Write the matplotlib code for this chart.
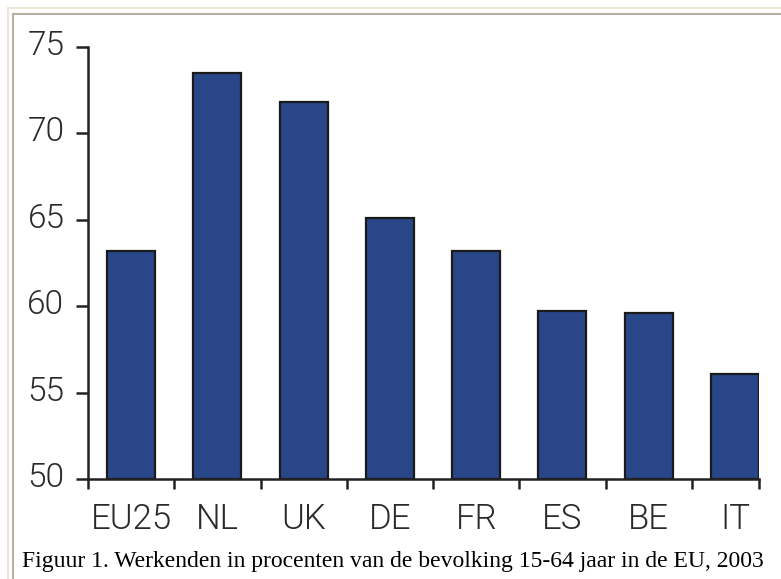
import matplotlib
matplotlib.use("Agg")
import matplotlib.pyplot as plt
from matplotlib.lines import Line2D
from matplotlib.transforms import ScaledTranslation

categories = ["EU25", "NL", "UK", "DE", "FR", "ES", "BE", "IT"]
values = [63.2, 73.5, 71.8, 65.1, 63.2, 59.7, 59.6, 56.1]
yticks = [50, 55, 60, 65, 70, 75]
caption = "Figuur 1. Werkenden in procenten van de bevolking 15-64 jaar in de EU, 2003"

W, H = 781, 579
fig = plt.figure(figsize=(W / 100, H / 100), dpi=100)
fig.patch.set_facecolor("white")

# frame lines (screenshot border)
fig.add_artist(Line2D([8 / W, 1], [1 - 8 / H, 1 - 8 / H], color="#ebe7d6", lw=1.5))
fig.add_artist(Line2D([8 / W, 8 / W], [0, 1 - 8 / H], color="#ebe7d6", lw=1.5))
fig.add_artist(Line2D([13 / W, 1], [1 - 14 / H, 1 - 14 / H], color="#b4b0a4", lw=1.5))
fig.add_artist(Line2D([13 / W, 13 / W], [0, 1 - 14 / H], color="#b4b0a4", lw=1.5))

left, right = 88 / W, 759 / W
bottom, top = 1 - 479 / H, 1 - 47 / H
ax = fig.add_axes([left, bottom, right - left, top - bottom])

width = 0.556
x = list(range(len(categories)))
ax.bar(x, [v - 50 for v in values], bottom=50, width=width,
       color="#294689", edgecolor="#1a1a1a", linewidth=1.6, zorder=2)

ax.set_ylim(50, 75)
ax.set_xlim(-0.5, len(categories) - 1 + width / 2)

ax.set_yticks(yticks)
ax.set_yticklabels([str(t) for t in yticks])

# category labels centred on bars, tick marks between categories
ax.set_xticks(x)
ax.set_xticklabels(categories)
ax.tick_params(axis="x", which="major", length=0, pad=17)
minor = [i - 0.5 for i in range(len(categories))] + [len(categories) - 1 + width / 2]
ax.set_xticks(minor, minor=True)
ax.tick_params(axis="x", which="minor", length=7, width=1.8, color="#222222", direction="out")
ax.tick_params(axis="y", which="major", length=9, width=1.8, color="#222222", pad=8)

for lab in ax.get_xticklabels():
    lab.set_fontfamily("Roboto")
    lab.set_fontweight(300)
    lab.set_fontsize(25)
    lab.set_color("#2a2a2a")

shift = ScaledTranslation(0, 0.045, fig.dpi_scale_trans)
for lab in ax.get_yticklabels():
    lab.set_fontfamily("Roboto")
    lab.set_fontweight(300)
    lab.set_fontsize(24)
    lab.set_color("#2a2a2a")
    lab.set_transform(lab.get_transform() + shift)

for s in ["top", "right"]:
    ax.spines[s].set_visible(False)
for s in ["left", "bottom"]:
    ax.spines[s].set_linewidth(1.8)
    ax.spines[s].set_color("#222222")

fig.text(22 / W, 1 - 567 / H, caption, family="Liberation Serif", fontsize=17,
         color="black", ha="left", va="baseline")

fig.savefig("out.png", dpi=100)
